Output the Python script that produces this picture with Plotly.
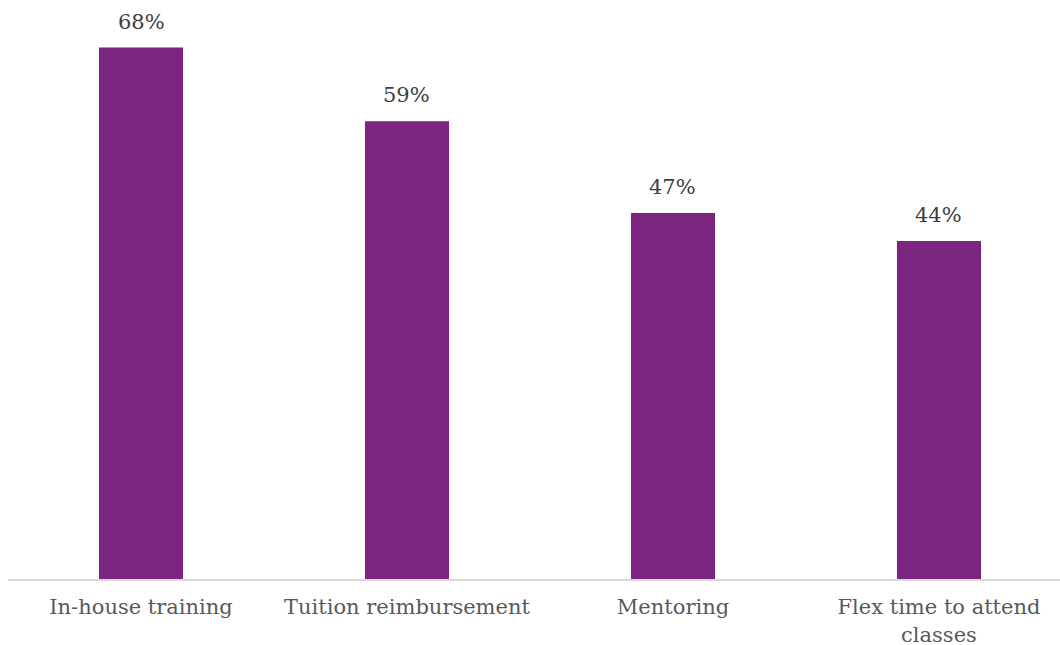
import plotly.graph_objects as go

categories = ["In-house training", "Tuition reimbursement", "Mentoring", "Flex time to attend<br>classes"]
values = [68.4, 58.9, 47.1, 43.5]
labels = ["68%", "59%", "47%", "44%"]

fig = go.Figure(go.Bar(
    x=categories, y=values,
    marker=dict(color="#7B2580", line=dict(width=0)),
    hoverinfo="x+y",
))
for c, v, t in zip(categories, values, labels):
    fig.add_annotation(x=c, y=v, text=t, showarrow=False, yanchor="bottom", yshift=12,
                       font=dict(family="DejaVu Serif", size=21, color="#404040"))
fig.update_layout(
    width=1060, height=645,
    margin=dict(l=8, r=0, t=32, b=66),
    paper_bgcolor="white", plot_bgcolor="white",
    bargap=0.684, showlegend=False,
    font=dict(family="DejaVu Serif", size=21, color="#595959"),
)
fig.update_yaxes(range=[0, 70.4], visible=False, showgrid=False)
fig.update_xaxes(range=[-0.5, 3.455], automargin=False, showline=True, linecolor="#D9D9D9",
                 linewidth=2, ticks="outside", ticklen=8, tickcolor="rgba(0,0,0,0)",
                 tickfont=dict(family="DejaVu Serif", size=21, color="#595959"))
fig.write_html("out.html", config={"displayModeBar": False},
               post_script="document.body.style.margin='0';document.body.style.overflow='hidden';")
